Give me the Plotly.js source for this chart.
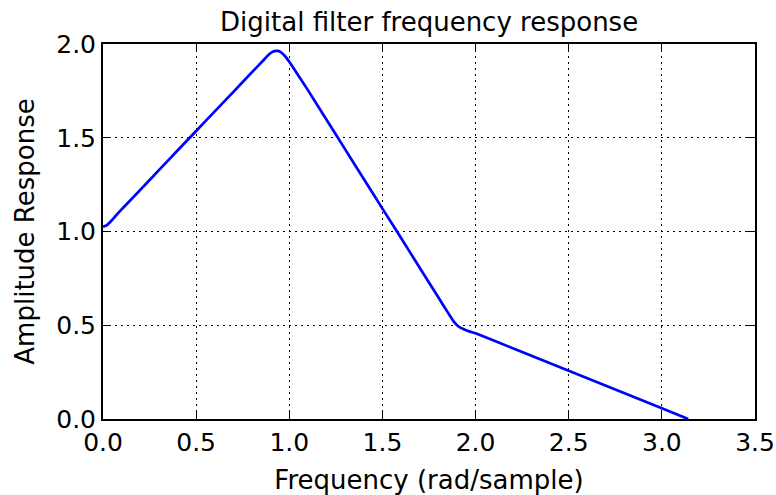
<!DOCTYPE html>
<html>
<head>
<meta charset="utf-8">
<script src="https://cdn.plot.ly/plotly-3.0.1.min.js"></script>
<style>html,body{margin:0;padding:0;background:#fff;}#chart{width:776px;height:495px;}</style>
</head>
<body>
<div id="chart"></div>
<script>
const freq = [0, 0.02, 0.04, 0.06, 0.08, 0.1, 0.15, 0.2, 0.3, 0.4, 0.5, 0.6, 0.7, 0.8, 0.86, 0.88, 0.9, 0.92, 0.94, 0.96, 0.98, 1.0, 1.1, 1.2, 1.3, 1.4, 1.5, 1.6, 1.7, 1.8, 1.85, 1.87, 1.89, 1.91, 1.94, 1.97, 2.0, 2.2, 2.4, 2.6, 2.8, 3.0, 3.1416];
const amplitude = [1.025, 1.033, 1.052, 1.074, 1.097, 1.118, 1.17, 1.222, 1.327, 1.432, 1.536, 1.641, 1.745, 1.85, 1.912, 1.934, 1.952, 1.962, 1.963, 1.952, 1.932, 1.905, 1.754, 1.596, 1.438, 1.28, 1.122, 0.965, 0.807, 0.649, 0.57, 0.539, 0.511, 0.492, 0.477, 0.466, 0.457, 0.377, 0.297, 0.217, 0.137, 0.057, 0.0];
const xTicks = [0, 0.5, 1.0, 1.5, 2.0, 2.5, 3.0, 3.5];
const yTicks = [0, 0.5, 1.0, 1.5, 2.0];

const font = {family: 'DejaVu Sans', size: 25, color: '#000'};
const axisCommon = {
  showline: true, linecolor: '#000', linewidth: 2, mirror: 'ticks',
  ticks: 'inside', ticklen: 8, tickwidth: 1, tickcolor: '#000',
  showgrid: true, gridcolor: '#000', gridwidth: 1, griddash: '2px,4px',
  zeroline: false, tickfont: font
};
Plotly.newPlot('chart', [{
  x: freq, y: amplitude, type: 'scatter', mode: 'lines',
  line: {color: '#0000ff', width: 2.7, shape: 'spline', smoothing: 0.3}
}], {
  width: 776, height: 495,
  margin: {l: 103, r: 21, t: 44, b: 76},
  paper_bgcolor: '#fff', plot_bgcolor: '#fff',
  showlegend: false,
  font: font,
  title: {text: 'Digital filter frequency response', font: {family: 'DejaVu Sans', size: 26, color: '#000'}, x: 0.553, xanchor: 'center', y: 0.955, yanchor: 'middle'},
  xaxis: Object.assign({}, axisCommon, {
    range: [0, 3.5], tickvals: xTicks, ticktext: xTicks.map(v => v.toFixed(1)),
    title: {text: 'Frequency (rad/sample)', font: {family: 'DejaVu Sans', size: 26, color: '#000'}, standoff: 16}
  }),
  yaxis: Object.assign({}, axisCommon, {
    range: [0, 2.0], tickvals: yTicks, ticktext: yTicks.map(v => v.toFixed(1)),
    title: {text: 'Amplitude Response', font: {family: 'DejaVu Sans', size: 26, color: '#000'}, standoff: 14}
  })
}, {displayModeBar: false, staticPlot: true});
</script>
</body>
</html>
